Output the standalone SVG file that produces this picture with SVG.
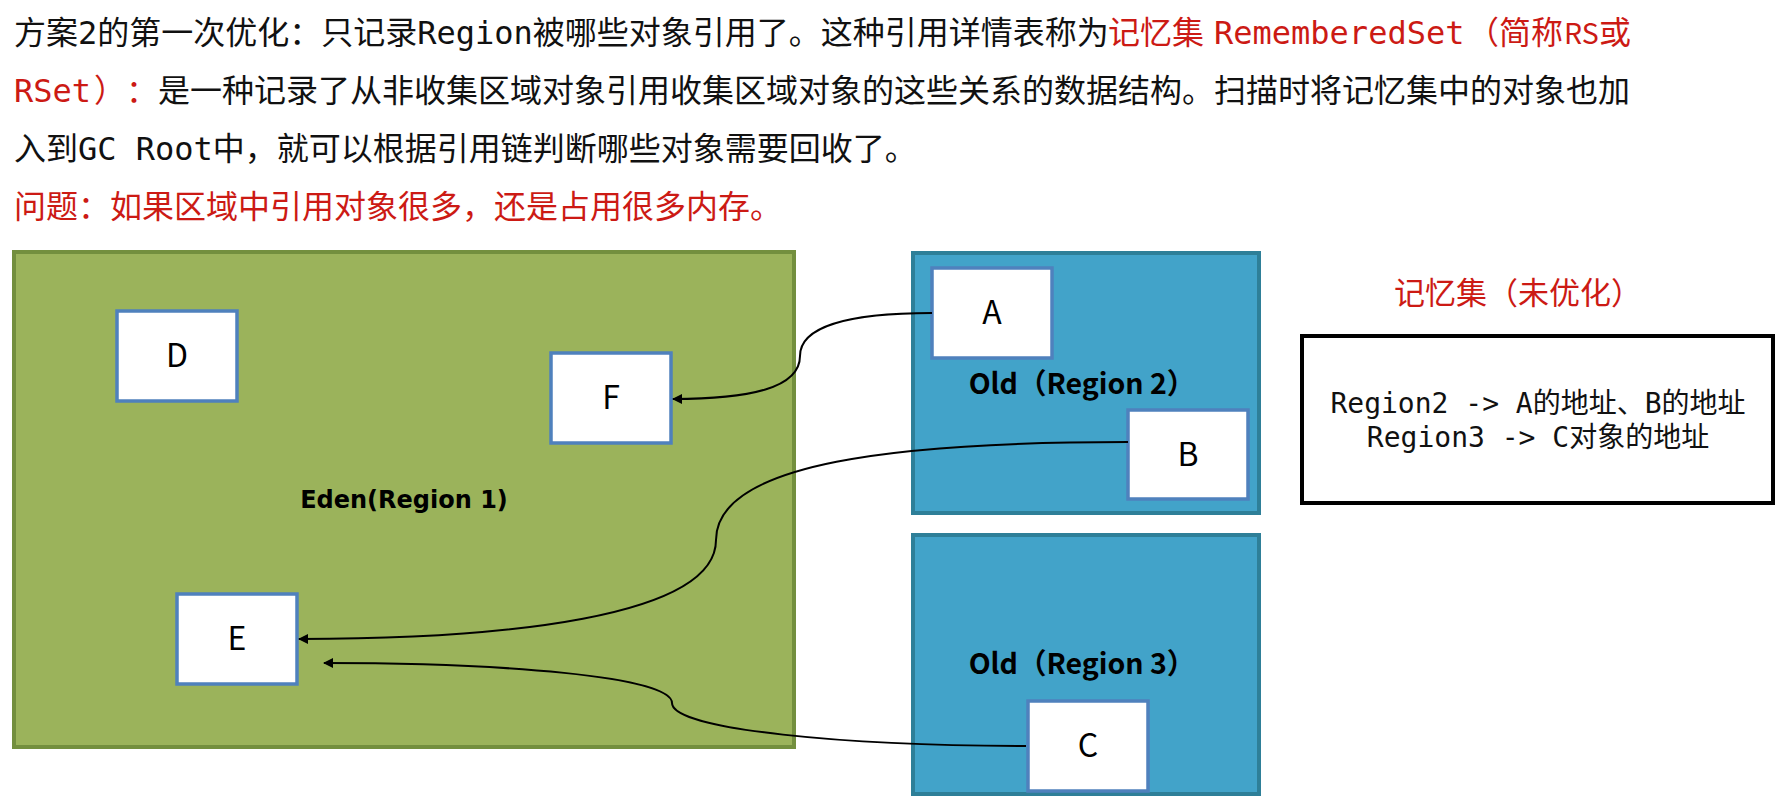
<svg xmlns="http://www.w3.org/2000/svg" width="1782" height="805" viewBox="0 0 1782 805">
<defs>
<style>
.para{font-family:"DejaVu Sans Mono","Noto Sans CJK SC",monospace;font-size:32px;fill:#111}
.red{fill:#cc1a14}
.sans{font-family:"Noto Sans CJK SC",sans-serif}
.box{fill:#fff;stroke:#4f81bd;stroke-width:3.5}
.lbl{font-family:"Noto Sans CJK SC","Noto Sans",sans-serif;font-size:32px;fill:#000;text-anchor:middle}
.old{fill:#42a3c9;stroke:#2e7f98;stroke-width:4}
.oldlbl{font-family:"Noto Sans CJK SC",sans-serif;font-weight:bold;font-size:28.5px;fill:#000;text-anchor:middle}
.conn{fill:none;stroke:#000;stroke-width:2}
.rs{font-family:"DejaVu Sans Mono","Noto Sans CJK SC",monospace;font-size:28px;fill:#111;text-anchor:middle}
</style>
<marker id="arr" viewBox="0 0 10 10" refX="9" refY="5" markerWidth="11" markerHeight="10" markerUnits="userSpaceOnUse" orient="auto">
<path d="M0,0 L10,5 L0,10 z" fill="#000"/>
</marker>
</defs>
<rect width="1782" height="805" fill="#fff"/>
<g id="intro">
<text class="para" x="14" y="44"><tspan>方案2的第一次优化：只记录Region被哪些对象引用了。这种引用详情表称为</tspan><tspan class="red" x="1108">记忆集</tspan><tspan class="red" x="1214">RememberedSet</tspan><tspan class="red" x="1467">（简称</tspan><tspan class="red sans" x="1564" font-size="28.5">RS</tspan><tspan class="red" x="1599">或</tspan></text>
<text class="para" x="14" y="102"><tspan class="red">RSet</tspan><tspan class="red" x="94">）</tspan><tspan class="red" x="126">：</tspan><tspan x="158">是一种记录了从非收集区域对象引用收集区域对象的这些关系的数据结构。扫描时将记忆集中的对象也加</tspan></text>
<text class="para" x="14" y="160">入到GC Root中，就可以根据引用链判断哪些对象需要回收了。</text>
<text class="para red" x="14" y="218">问题：如果区域中引用对象很多，还是占用很多内存。</text>
</g>
<g id="eden">
<rect x="14" y="252" width="780" height="495" fill="#9bb35b" stroke="#738f3e" stroke-width="4"/>
<text x="404" y="508" font-family="DejaVu Sans,sans-serif" font-weight="bold" font-size="24" text-anchor="middle" fill="#000">Eden(Region 1)</text>
</g>
<g id="region2">
<rect class="old" x="913" y="253" width="346" height="260"/>
<text class="oldlbl" x="1082" y="394">Old（Region 2）</text>
</g>
<g id="region3">
<rect class="old" x="913" y="535" width="346" height="259"/>
<text class="oldlbl" x="1082" y="674">Old（Region 3）</text>
</g>
<g id="nodeD"><rect class="box" x="117" y="311" width="120" height="90"/><text class="lbl" x="177" y="367">D</text></g>
<g id="nodeF"><rect class="box" x="551" y="353" width="120" height="90"/><text class="lbl" x="611" y="409">F</text></g>
<g id="nodeE"><rect class="box" x="177" y="594" width="120" height="90"/><text class="lbl" x="237" y="650">E</text></g>
<g id="nodeA"><rect class="box" x="932" y="268" width="120" height="90"/><text class="lbl" x="992" y="324">A</text></g>
<g id="nodeB"><rect class="box" x="1128" y="410" width="120" height="89"/><text class="lbl" x="1188" y="466">B</text></g>
<g id="nodeC"><rect class="box" x="1028" y="701" width="120" height="90"/><text class="lbl" x="1088" y="757">C</text></g>
<g id="connectors">
<path class="conn" marker-end="url(#arr)" d="M932,313 C850,313 800,326 800,356 C800,388 750,399 673,399"/>
<path class="conn" marker-end="url(#arr)" d="M1128,442 C900,442 716,462 716,540 C716,618 500,639 299,639"/>
<path class="conn" marker-end="url(#arr)" d="M1026,746 C850,746 672,730 672,703 C672,676 500,663 324,663"/>
</g>
<g id="rset">
<text x="1518" y="304" font-family="Noto Sans CJK SC,sans-serif" font-size="31" fill="#cc1a14" text-anchor="middle">记忆集（未优化）</text>
<rect x="1302" y="336" width="471" height="167" fill="#fff" stroke="#000" stroke-width="4"/>
<text class="rs" x="1538" y="413">Region2 -&gt; A的地址、B的地址</text>
<text class="rs" x="1538" y="447">Region3 -&gt; C对象的地址</text>
</g>
</svg>
